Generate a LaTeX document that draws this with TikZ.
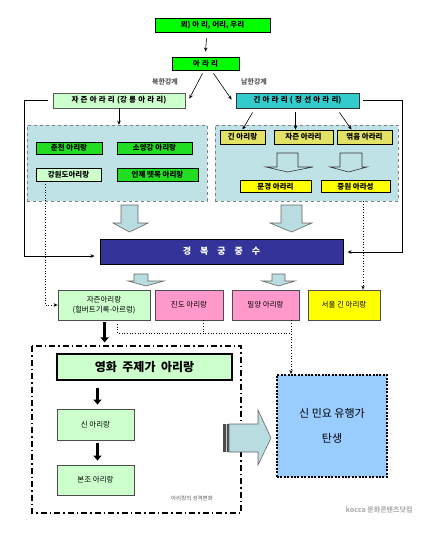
\documentclass[tikz,border=0pt]{standalone}
\usepackage{fontspec}
\setmainfont{Noto Sans CJK KR}
\usetikzlibrary{arrows.meta,calc}
\definecolor{brgreen}{HTML}{00FF00}
\definecolor{midgreen}{HTML}{22DD22}
\definecolor{palegreen}{HTML}{CCFFCC}
\definecolor{teal1}{HTML}{33CCCC}
\definecolor{panel}{HTML}{BFE2E6}
\definecolor{olive1}{HTML}{E2E266}
\definecolor{yel}{HTML}{FFFF00}
\definecolor{navy1}{HTML}{333399}
\definecolor{pink1}{HTML}{FF99CC}
\definecolor{sky1}{HTML}{99CCFF}
\definecolor{barrow}{HTML}{B8DCDF}
\tikzset{
  bx/.style={draw=black, line width=0.8pt, inner sep=0pt, font=\fontsize{7.5}{9}\selectfont\bfseries, align=center},
  pnl/.style={draw=gray, dashed, line width=0.5pt, fill=panel, inner sep=0pt},
  arr/.style={-{Stealth[length=4pt,width=3.5pt]}, line width=0.6pt},
  dotarr/.style={-{Stealth[length=4pt,width=3.5pt]}, line width=0.7pt, dotted},
  thickarr/.style={-{Triangle[length=5pt,width=8pt]}, line width=2.8pt},
  blockarr/.style={fill=barrow, draw=gray!80!black, line width=0.6pt},
  lbl/.style={text=gray!70!black, font=\fontsize{7}{8}\selectfont\bfseries}
}
\newcommand{\lsp}{\hspace{2.2pt}}
\begin{document}
\begin{tikzpicture}[x=1pt,y=-1pt]
\useasboundingbox (0,0) rectangle (427,536);
% top chain
\node[bx, fill=brgreen, minimum width=115, minimum height=14] (top) at (212.5,25) {뫼) 아 리, 어리, 우리};
\node[bx, fill=brgreen, minimum width=67, minimum height=13] (arari) at (205.5,63.5) {아\lsp 라\lsp 리};
\draw[arr] ($(top.south)+(-6,6)$) -- ($(arari.north)+(0,-5)$);
\node[lbl] (nlbl) at (165,82) {북한강계};
\node[lbl] (slbl) at (254,82) {남한강계};
\node[bx, fill=palegreen, draw=gray!70!black, minimum width=132, minimum height=15] (jl) at (119,100.5) {자\lsp 즌\lsp 아\lsp 라\lsp 리\lsp(강\lsp 릉\lsp 아\lsp 라\lsp 리)};
\node[bx, fill=teal1, draw=black!80, minimum width=123, minimum height=15] (gr) at (297.5,100.5) {긴\lsp 아\lsp 라\lsp 리\lsp (\lsp 정\lsp 선\lsp 아\lsp 라\lsp 리)};
\draw[arr] ($(arari.south)+(-3,3)$) -- ($(jl.north east)+(4,6)$);
\draw[arr] ($(arari.south)+(8,3)$) -- ($(gr.north west)+(-4,7)$);
% panels
\node[pnl, minimum width=180, minimum height=76] (lp) at (117,163) {};
\node[pnl, minimum width=183, minimum height=76] (rp) at (306.5,163) {};
\draw[arr] (jl.south) -- (lp.north -| jl.south);
\node[bx, fill=midgreen, minimum width=66, minimum height=12] (chun) at (69,148) {춘천 아리랑};
\node[bx, fill=midgreen, minimum width=75, minimum height=12] (soy) at (154.5,148) {소양강 아리랑};
\node[bx, fill=palegreen, minimum width=65, minimum height=13] (gwd) at (68.5,174.5) {강원도아리랑};
\node[bx, fill=midgreen, minimum width=81, minimum height=13] (inje) at (157.5,174.5) {인제 뗏목 아리랑};
\node[bx, fill=olive1, minimum width=45, minimum height=14] (ga) at (242.5,137) {긴 아리랑};
\node[bx, fill=olive1, minimum width=59, minimum height=14] (ja) at (303.5,137) {자즌 아라리};
\node[bx, fill=olive1, minimum width=55, minimum height=14] (ye) at (364.5,137) {엮음 아라리};
\node[bx, fill=yel, minimum width=71, minimum height=12] (mg) at (275.5,186.5) {문경 아라리};
\node[bx, fill=yel, minimum width=69, minimum height=12] (jw) at (355.5,186.5) {중원 아라성};
\draw[arr] ($(gr.south west)+(17,4)$) -- (ga.north);
\draw[arr] ($(gr.south)+(-2,4)$) -- ($(ja.north)+(-8,0)$);
\draw[arr] ($(gr.south east)+(-20,4)$) -- ($(ye.north)+(-13,0)$);
% hollow arrows inside right panel
\draw[fill=panel, draw=gray!40!black, line width=0.6pt] (277,153) -- (298,153) -- (298,167) -- (313,167) -- (287.5,172) -- (266,167) -- (277,167) -- cycle;
\draw[fill=panel, draw=gray!40!black, line width=0.6pt] (340,153) -- (362,153) -- (362,167) -- (367,167) -- (348.5,172) -- (330,167) -- (340,167) -- cycle;
% big down arrows
\draw[blockarr] (121,205) -- (138,205) -- (138,223) -- (148,223) -- (129.5,232) -- (113,223) -- (121,223) -- cycle;
\draw[blockarr] (281,205) -- (302,205) -- (302,223) -- (312,223) -- (291.5,232) -- (270,223) -- (281,223) -- cycle;
% gyeongbok
\node[bx, fill=navy1, text=white, minimum width=243, minimum height=25, line width=1pt, font=\fontsize{9}{10}\selectfont\bfseries] (gb) at (221.5,251.5) {경\hspace{9pt}복\hspace{9pt}궁\hspace{9pt}중\hspace{9pt}수};
\draw[arr] ($(jl.west)+(-5,0)$) -| (24,256) -- ($(gb.west)+(-5,4.5)$);
\draw[arr] ($(gr.east)+(4,0)$) -| (402,252) -- ($(gb.east)+(4,0.5)$);
% small arrows below
\draw[blockarr] (134,274) -- (148,274) -- (148,281) -- (164,281) -- (146,286) -- (128,281) -- (134,281) -- cycle;
\draw[blockarr] (272,274) -- (285,274) -- (285,281) -- (295,281) -- (278.5,286) -- (262,281) -- (272,281) -- cycle;
% row
\node[bx, fill=palegreen, draw=gray!60!black, minimum width=92, minimum height=30, font=\fontsize{7.5}{10}\selectfont] (jar) at (104,305) {자즌아리랑\\(헐버트기록-아르렁)};
\node[bx, fill=pink1, draw=gray!60!black, minimum width=68, minimum height=30, font=\fontsize{7.5}{9}\selectfont] (jd) at (189,305) {진도 아리랑};
\node[bx, fill=pink1, draw=gray!60!black, minimum width=67, minimum height=30, font=\fontsize{7.5}{9}\selectfont] (my) at (265.5,305) {밀양 아리랑};
\node[bx, fill=yel, draw=gray!60!black, minimum width=72, minimum height=30, font=\fontsize{7.5}{9}\selectfont] (sl) at (344,305) {서울 긴 아리랑};
\draw[dotarr] (gwd.south -| 45,0) |- (jar.west);
\draw[dotarr] (rp.south -| 363,0) -- (sl.north -| 363,0);
% new folk song box
\node[draw=black, line width=2.2pt, dash pattern=on 2pt off 1.4pt, fill=sky1, minimum width=110, minimum height=102, inner sep=0pt, align=center, font=\fontsize{11}{13}\selectfont] (nm) at (332,426) {신 민요 유행가\\[12pt]탄생};
\coordinate (br1) at (117,324);
\coordinate (br2) at (117,333);
\coordinate (brm) at (203,333);
\coordinate (brr) at (291,333);
\draw[dotted, line width=0.7pt] (br1) -- (br2) -- (brr);
\draw[dotted, line width=0.7pt] (jd.south -| brm) -- (brm);
\draw[dotarr] (my.south -| brr) -- (nm.north -| brr);
% dash-dot frame
\draw[line width=1.6pt, dash pattern=on 6pt off 3pt on 1.5pt off 3pt] (32,346) rectangle (241,513);
\node[bx, fill=palegreen, line width=1.4pt, minimum width=175, minimum height=26, font=\fontsize{12}{14}\selectfont\bfseries] (mv) at (144.5,367) {영화 \ 주제가 \ 아리랑};
\node[bx, fill=palegreen, draw=gray!60!black, minimum width=77, minimum height=31, font=\fontsize{7.5}{9}\selectfont] (sa) at (95.5,424.5) {신 아리랑};
\node[bx, fill=palegreen, draw=gray!60!black, minimum width=77, minimum height=30, font=\fontsize{7.5}{9}\selectfont] (bj) at (95.5,480) {본조 아리랑};
\node[text=gray!70!black, font=\fontsize{5.5}{7}\selectfont] (cap) at (192,498) {아리랑의 성격변화};
\draw[thickarr] ($(jar.south west)+(47,2)$) -- ($(jar.south west)+(47,22)$);
\draw[thickarr] ($(mv.south -| sa.north)+(2,7)$) -- ($(sa.north)+(2,-4)$);
\draw[thickarr] ($(sa.south)+(2,3)$) -- ($(bj.north)+(2,-4)$);
% big right arrow
\fill[gray!60!black] (223,424) rectangle (225.5,452);
\fill[gray!40] (225.5,424) rectangle (227,452);
\fill[gray!60!black] (227,424) rectangle (229,452);
\draw[blockarr] (229,424) -- (258,424) -- (258,410) -- (271,438) -- (258,465) -- (258,452) -- (229,452) -- cycle;
% watermark
\node[text=gray!60, font=\fontsize{7}{8}\selectfont\bfseries, anchor=east] (wm) at (416,510) {kocca 문화콘텐츠닷컴};
\end{tikzpicture}
\end{document}
